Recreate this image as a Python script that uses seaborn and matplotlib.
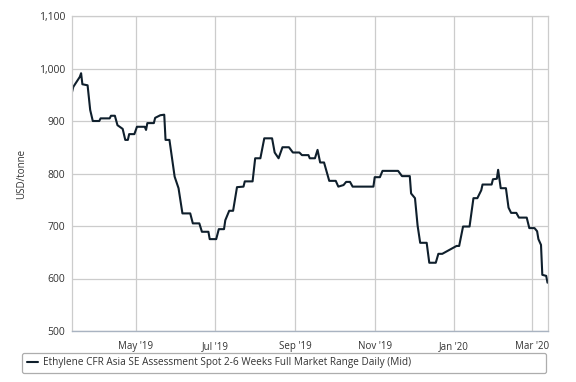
import numpy as np
import pandas as pd
import matplotlib
matplotlib.use('Agg')
import matplotlib.pyplot as plt
import matplotlib.dates as mdates
import matplotlib.ticker as mticker
import seaborn as sns

# Values (USD/tonne, daily mid price)
dates = [
    '2019-03-13', '2019-03-14', '2019-03-19', '2019-03-20', '2019-03-21', '2019-03-25',
    '2019-03-27', '2019-03-29', '2019-04-03', '2019-04-04', '2019-04-11', '2019-04-12',
    '2019-04-15', '2019-04-17', '2019-04-21', '2019-04-23', '2019-04-25', '2019-04-26',
    '2019-04-30', '2019-05-02', '2019-05-08', '2019-05-09', '2019-05-10', '2019-05-15',
    '2019-05-16', '2019-05-20', '2019-05-23', '2019-05-24', '2019-05-27', '2019-05-31',
    '2019-06-03', '2019-06-06', '2019-06-12', '2019-06-14', '2019-06-19', '2019-06-21',
    '2019-06-26', '2019-06-27', '2019-07-02', '2019-07-04', '2019-07-08', '2019-07-09',
    '2019-07-12', '2019-07-15', '2019-07-18', '2019-07-23', '2019-07-24', '2019-07-30',
    '2019-08-01', '2019-08-05', '2019-08-08', '2019-08-14', '2019-08-16', '2019-08-19',
    '2019-08-22', '2019-08-27', '2019-08-30', '2019-09-04', '2019-09-06', '2019-09-11',
    '2019-09-12', '2019-09-16', '2019-09-18', '2019-09-20', '2019-09-23', '2019-09-27',
    '2019-10-02', '2019-10-04', '2019-10-08', '2019-10-10', '2019-10-13', '2019-10-15',
    '2019-10-31', '2019-11-01', '2019-11-05', '2019-11-07', '2019-11-19', '2019-11-22',
    '2019-11-28', '2019-11-29', '2019-12-02', '2019-12-04', '2019-12-06', '2019-12-11',
    '2019-12-13', '2019-12-18', '2019-12-20', '2019-12-23', '2020-01-03', '2020-01-05',
    '2020-01-08', '2020-01-13', '2020-01-16', '2020-01-19', '2020-01-22', '2020-01-23',
    '2020-01-30', '2020-01-31', '2020-02-03', '2020-02-04', '2020-02-06', '2020-02-10',
    '2020-02-12', '2020-02-14', '2020-02-18', '2020-02-20', '2020-02-26', '2020-02-28',
    '2020-03-03', '2020-03-05', '2020-03-06', '2020-03-08', '2020-03-09', '2020-03-12',
    '2020-03-13',
]
prices = [
    955, 965, 984, 991, 970, 968,
    921, 900, 900, 905, 905, 910,
    910, 892, 885, 864, 864, 875,
    875, 889, 889, 883, 896, 896,
    906, 911, 912, 864, 864, 794,
    772, 724, 724, 705, 705, 689,
    689, 675, 675, 694, 694, 711,
    729, 729, 774, 775, 785, 785,
    829, 829, 867, 867, 840, 829,
    850, 850, 840, 840, 835, 835,
    829, 829, 845, 821, 821, 786,
    786, 775, 778, 784, 784, 775,
    775, 793, 793, 805, 805, 795,
    795, 762, 753, 701, 668, 668,
    630, 630, 647, 647, 662, 662,
    699, 699, 753, 753, 768, 779,
    779, 789, 790, 807, 772, 772,
    735, 725, 725, 716, 716, 696,
    696, 690, 675, 664, 607, 605,
    592,
]
series_name = 'Ethylene CFR Asia SE Assessment Spot 2-6 Weeks Full Market Range Daily (Mid)'
y_ticks = [500, 600, 700, 800, 900, 1000, 1100]

df = pd.DataFrame({'Date': pd.to_datetime(dates), 'Price': prices})

sns.set_style('white')
plt.rcParams['font.family'] = ['Open Sans', 'DejaVu Sans']

fig = plt.figure(figsize=(5.76, 3.82), dpi=100)
ax = fig.add_axes([72 / 576, 1 - 331 / 382, (547.5 - 72) / 576, (331 - 16) / 382])

sns.lineplot(x='Date', y='Price', data=df, ax=ax, color='#0f1f2c', linewidth=1.5,
             label=series_name, legend=False)

ax.set_xlim(pd.Timestamp('2019-03-13'), pd.Timestamp('2020-03-13'))
ax.set_ylim(500, 1100)
ax.set_yticks(y_ticks)
ax.yaxis.set_major_formatter(mticker.StrMethodFormatter('{x:,.0f}'))
ax.xaxis.set_major_locator(mdates.MonthLocator(bymonth=[1, 3, 5, 7, 9, 11]))
ax.xaxis.set_major_formatter(mdates.DateFormatter("%b '%y"))

ax.grid(True, color='#cccccc', linewidth=0.9)
ax.set_axisbelow(True)
for side in ['top', 'right', 'left']:
    ax.spines[side].set_visible(True)
    ax.spines[side].set_color('#cccccc')
    ax.spines[side].set_linewidth(0.9)
ax.spines['bottom'].set_color('#a9b3c1')
ax.spines['bottom'].set_linewidth(1.0)

ax.tick_params(axis='x', length=4, color='#cccccc', labelsize=7, labelcolor='#333333', pad=3)
ax.tick_params(axis='y', length=0, labelsize=7.5, labelcolor='#333333', pad=5)

ax.set_xlabel('')
ax.set_ylabel('USD/tonne', fontsize=7, color='#333333', labelpad=8)

handles, labels = ax.get_legend_handles_labels()
leg = fig.legend(handles, labels, loc='center left',
                 bbox_to_anchor=(22 / 576, 1 - 373 / 382, (546 - 22) / 576, 21 / 382),
                 mode='expand', fontsize=7.2, frameon=True, fancybox=True,
                 handlelength=1.1, handletextpad=0.55, borderpad=0.45, borderaxespad=0)
leg.get_frame().set_edgecolor('#999999')
leg.get_frame().set_linewidth(0.9)
for t in leg.get_texts():
    t.set_color('#333333')

fig.savefig('out.png', dpi=100)
